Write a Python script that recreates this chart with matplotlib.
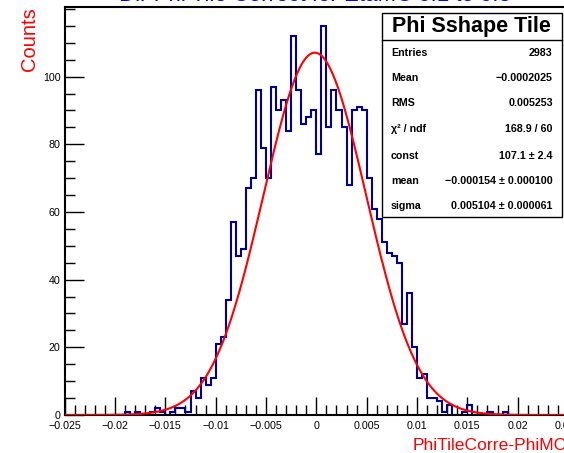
import numpy as np
import matplotlib
matplotlib.use('Agg')
import matplotlib.pyplot as plt
from matplotlib.patches import Rectangle
from matplotlib.ticker import MultipleLocator, FixedLocator

plt.rcParams['font.family'] = ['Liberation Sans', 'DejaVu Sans']
plt.rcParams['axes.unicode_minus'] = True

# histogram: 100 bins from -0.025 to 0.025
x_min, x_max, n_bins = -0.025, 0.025, 100
counts = [0] * 12 + [
    1, 0, 1, 0, 0, 1, 2, 1, 0, 1, 2, 2, 1, 7, 5,
    11, 9, 11, 21, 23, 34, 57, 47, 49, 67, 70, 96,
    79, 70, 97, 90, 93, 84, 112, 96, 86, 88, 90, 77,
    115, 85, 96, 90, 85, 68, 90, 91, 90, 70, 61, 58,
    51, 48, 47, 45, 27, 36, 20, 11, 12, 5, 5, 4, 1, 3,
    0, 0, 1, 3, 0, 0, 0, 1, 0, 0, 1,
] + [0] * 12

# gaussian fit parameters
fit_const, fit_mean, fit_sigma = 107.1, -0.000154, 0.005104

# stat box
box_title = 'Phi Sshape Tile'
stat_names = ['Entries', 'Mean', 'RMS', 'χ² / ndf', 'const', 'mean', 'sigma']
stat_values = ['2983', '\u22120.0002025', '0.005253', '168.9 / 60',
               '107.1 ± 2.4', '\u22120.000154 ± 0.000100', '0.005104 ± 0.000061']

y_labels = [0, 20, 40, 60, 80, 100]

title = 'Dir Phi Tile Correct for EtaMC 0.1 to 0.3'
x_title = 'PhiTileCorre-PhiMC'
y_title = 'Counts'

W, H = 564, 453
fig = plt.figure(figsize=(W / 100, H / 100), dpi=100)
# axes run past the right edge of the picture, as in the reference
ax = fig.add_axes([64.7 / W, 38 / H, 503.3 / W, 407.7 / H])

edges = np.linspace(x_min, x_max, n_bins + 1)
ax.stairs(counts, edges, color='#000099', lw=1.5, baseline=0, zorder=2)

xf = np.linspace(x_min, x_max, 600)
yf = fit_const * np.exp(-0.5 * ((xf - fit_mean) / fit_sigma) ** 2)
ax.plot(xf, yf, color='red', lw=1.5, zorder=3)

ax.set_xlim(x_min, x_max)
ax.set_ylim(0, 120.5)

ax.xaxis.set_major_locator(MultipleLocator(0.005))
ax.xaxis.set_minor_locator(MultipleLocator(0.001))
ax.yaxis.set_major_locator(FixedLocator(y_labels))
ax.yaxis.set_minor_locator(MultipleLocator(5))
ax.tick_params(which='both', direction='in', width=1, labelsize=7.7, top=False, right=False)
ax.tick_params(which='major', length=13)
ax.tick_params(which='minor', length=7)
ax.tick_params(axis='x', pad=4)
ax.tick_params(axis='y', which='major', length=14, pad=3)

def xfmt(v, pos):
    if abs(v) < 1e-12:
        return '0'
    s = ('%.3f' % v).rstrip('0')
    return s.replace('-', '\u2212')
ax.xaxis.set_major_formatter(plt.FuncFormatter(xfmt))

for s in ax.spines.values():
    s.set_linewidth(1.5)

# titles (main title is mostly cut off by the top edge)
fig.text(315 / W, 1 - 1.2 / H, title, color='blue', fontsize=16,
         ha='center', va='baseline')
fig.text(29 / W, 1 - 7 / H, y_title, color='red', fontsize=14.5,
         rotation=90, ha='center', va='top')
fig.text(412.6 / W, 1 - 446 / H, x_title, color='red', fontsize=12.6,
         ha='left', va='center')

# stat box
bl, br, bt, bb, bsep = 381.5, 562, 13, 217, 40
fig.add_artist(Rectangle((bl / W, 1 - bb / H), (br - bl) / W, (bb - bt) / H,
                         transform=fig.transFigure, facecolor='white',
                         edgecolor='black', lw=1, zorder=5))
fig.add_artist(plt.Line2D([bl / W, br / W], [1 - bsep / H, 1 - bsep / H],
                          transform=fig.transFigure, color='black', lw=1, zorder=6))
fig.text((bl + br) / 2 / W, 1 - (bt + bsep) / 2 / H, box_title, fontsize=15.5,
         fontweight='bold', ha='center', va='center', zorder=7)
row_y = [52.7, 78.3, 103.3, 129, 155.7, 180.7, 206]
for name, val, y in zip(stat_names, stat_values, row_y):
    fig.text(391 / W, 1 - y / H, name, fontsize=7.7, fontweight='bold',
             ha='left', va='center', zorder=7)
    fig.text(552.7 / W, 1 - y / H, val, fontsize=7.7, fontweight='bold',
             ha='right', va='center', zorder=7)

fig.savefig('out.png', dpi=100)
